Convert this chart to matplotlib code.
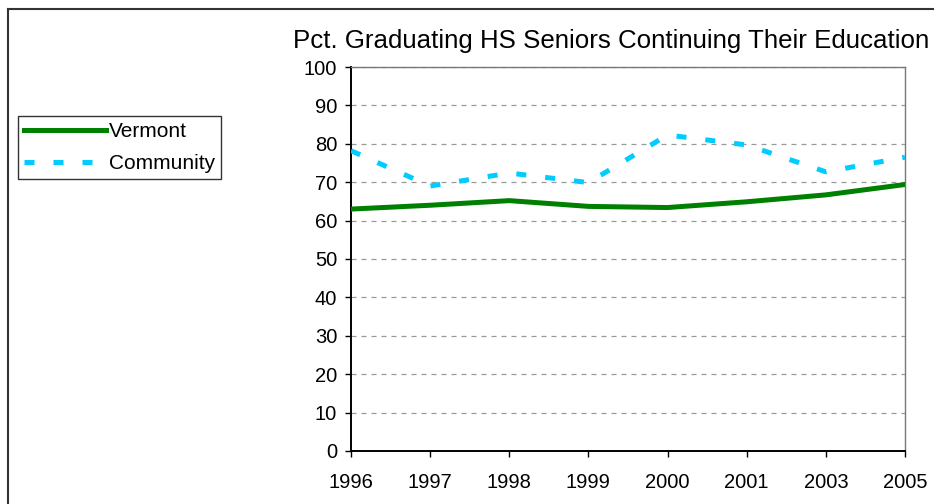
import matplotlib
matplotlib.use("Agg")
import matplotlib.pyplot as plt
from matplotlib.lines import Line2D

plt.rcParams['font.family'] = ['Liberation Sans', 'DejaVu Sans']

years = ["1996", "1997", "1998", "1999", "2000", "2001", "2003", "2005"]
vermont = [63.0, 64.0, 65.2, 63.7, 63.4, 64.9, 66.7, 69.4]
community = [78.2, 69.0, 72.4, 69.9, 82.3, 79.7, 72.7, 76.5]
yticks = list(range(0, 101, 10))

W, H = 934, 504
fig = plt.figure(figsize=(W / 100, H / 100), dpi=100)
ax = fig.add_axes([351 / W, 53 / H, (905 - 351) / W, (451 - 67) / H])

x = list(range(len(years)))
ax.plot(x, vermont, color="#008000", lw=3.6, solid_joinstyle="round",
        label="Vermont", zorder=3)
ax.plot(x, community, color="#00CCFF", lw=3.6, dashes=(2.0, 3.8),
        dash_capstyle="butt", label="Community", zorder=3)

ax.set_xlim(0, len(years) - 1)
ax.set_ylim(0, 100)
ax.set_xticks(x)
ax.set_xticklabels(years)
ax.set_yticks(yticks)
ax.tick_params(axis="both", direction="out", length=4, width=1,
               labelsize=14.5, colors="black")
ax.tick_params(axis="x", pad=12)
ax.tick_params(axis="y", pad=6)
ax.yaxis.grid(True, color="#999999", lw=0.9, dashes=(4, 4))
ax.set_axisbelow(True)

for s in ("left", "bottom"):
    ax.spines[s].set_color("black")
    ax.spines[s].set_linewidth(1.4)
for s in ("top", "right"):
    ax.spines[s].set_color("#777777")
    ax.spines[s].set_linewidth(1.0)

fig.text(611 / W, 1 - 41 / H, "Pct. Graduating HS Seniors Continuing Their Education",
         ha="center", va="center", fontsize=18.6)

leg = fig.legend(loc="upper left", bbox_to_anchor=(18 / W, 1 - 116 / H),
                 fontsize=15, frameon=True, fancybox=False, edgecolor="black",
                 handlelength=3.9, handletextpad=0.15, borderpad=0.3,
                 labelspacing=0.62, borderaxespad=0)
leg.get_frame().set_linewidth(1.0)

# outer chart border
fig.add_artist(Line2D([8 / W, 8 / W], [0, 1 - 9 / H], color="#333333", lw=1.5,
                      transform=fig.transFigure))
fig.add_artist(Line2D([8 / W, 1], [1 - 9 / H, 1 - 9 / H], color="#333333", lw=1.5,
                      transform=fig.transFigure))

fig.savefig("out.png", dpi=100)
